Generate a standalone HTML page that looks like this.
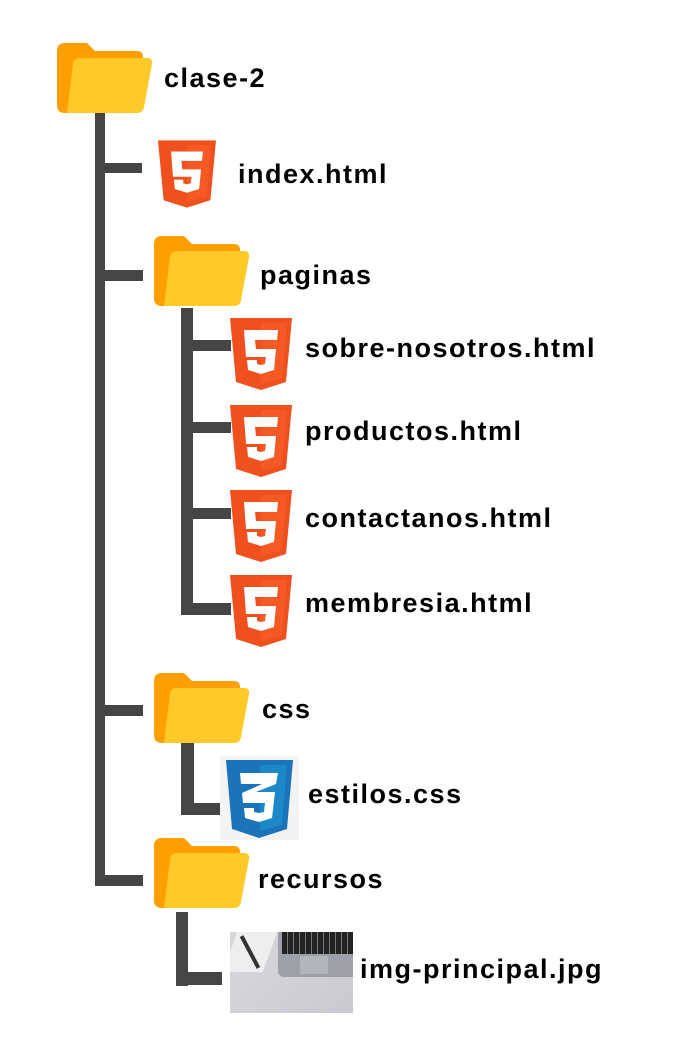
<!DOCTYPE html>
<html><head><meta charset="utf-8"><style>
body{margin:0;background:#fff;width:685px;height:1052px;position:relative;overflow:hidden;font-family:"Liberation Sans",sans-serif;}
.b{position:absolute;background:#454545;}
.t{position:absolute;font-weight:bold;font-size:27px;letter-spacing:1.5px;color:#000;line-height:1;white-space:nowrap;}
svg{position:absolute;}
</style></head><body>
<svg width="0" height="0" style="position:absolute">
<defs>
<symbol id="fold" viewBox="0 0 96 70">
<path d="M0 8 Q0 0 8 0 H30 L38 8 H80 Q86 8 86 14 V62 Q86 70 78 70 H8 Q0 70 0 62Z" fill="#FFA000"/>
<path d="M16 21 Q17 15 23 15 H90 Q96 15 95 21 L87 64 Q86 70 80 70 H10Z" fill="#FFCA28"/>
</symbol>
<symbol id="h5" viewBox="0 0 62 72">
<path d="M0 0H62L56 64L31 72L6 64Z" fill="#F0501E"/>
<path d="M31 5H57L52 60L31 66Z" fill="#F55A25"/>
<path d="M14 12H48L47 22H25L26 31H46L44 52L31 56L18 52L17 42H27L27 46L31 47L35 46L36 39H16Z" fill="#fff"/>
</symbol>
</defs></svg>

<div class="b" style="left:95px;top:110px;width:10px;height:776px"></div>
<div class="b" style="left:95px;top:163px;width:47px;height:10px"></div>
<div class="b" style="left:95px;top:270px;width:48px;height:11px"></div>
<div class="b" style="left:95px;top:705px;width:48px;height:11px"></div>
<div class="b" style="left:95px;top:875px;width:48px;height:11px"></div>

<div class="b" style="left:181px;top:308px;width:12px;height:307px"></div>
<div class="b" style="left:181px;top:340px;width:50px;height:11px"></div>
<div class="b" style="left:181px;top:422px;width:50px;height:11px"></div>
<div class="b" style="left:181px;top:508px;width:50px;height:11px"></div>
<div class="b" style="left:181px;top:603px;width:50px;height:12px"></div>

<div class="b" style="left:181px;top:743px;width:13px;height:72px"></div>
<div class="b" style="left:181px;top:803px;width:44px;height:12px"></div>
<div class="b" style="left:176px;top:912px;width:12px;height:74px"></div>
<div class="b" style="left:176px;top:972px;width:46px;height:13px"></div>

<svg style="left:57px;top:43px" width="96" height="70"><use href="#fold"/></svg>
<svg style="left:154px;top:236px" width="96" height="70"><use href="#fold"/></svg>
<svg style="left:154px;top:673px" width="96" height="70"><use href="#fold"/></svg>
<svg style="left:154px;top:838px" width="96" height="70"><use href="#fold"/></svg>

<svg style="left:158px;top:138px" width="58" height="72"><use href="#h5"/></svg>
<svg style="left:230px;top:318px" width="62" height="72"><use href="#h5"/></svg>
<svg style="left:230px;top:405px" width="62" height="72"><use href="#h5"/></svg>
<svg style="left:230px;top:490px" width="62" height="72"><use href="#h5"/></svg>
<svg style="left:230px;top:575px" width="62" height="72"><use href="#h5"/></svg>

<div style="position:absolute;left:220px;top:756px;width:79px;height:84px;background:#f3f3f3"></div>
<svg style="left:226px;top:760px" width="67" height="78" viewBox="0 0 67 78">
<path d="M0 0H67L61 69L33 78L6 69Z" fill="#1B73BA"/>
<path d="M34 5H61L56 65L34 71Z" fill="#1C88C7"/>
<path d="M14 13H52L50 24L30 32H49L46 58L33 62L19 58L18 48H28L28 52L33 53L38 52L39 43H17L16 33L36 24H15Z" fill="#fff"/>
</svg>

<div style="position:absolute;left:230px;top:932px;width:123px;height:81px;background:linear-gradient(135deg,#d8d8dc,#c9c9cf);overflow:hidden">
<div style="position:absolute;left:0;top:0;width:40px;height:40px;background:#eee;transform:skewX(-20deg)"></div>
<div style="position:absolute;left:18px;top:2px;width:4px;height:36px;background:#333;transform:rotate(-28deg)"></div>
<div style="position:absolute;left:48px;top:0;width:75px;height:45px;background:#9da0a6;border-radius:0 0 0 6px"></div>
<div style="position:absolute;left:52px;top:0;width:71px;height:22px;background:repeating-linear-gradient(90deg,#222 0 5px,#777 5px 6px)"></div>
<div style="position:absolute;left:70px;top:24px;width:28px;height:18px;background:#b3b5ba"></div>
</div>

<div class="t" style="left:164px;top:65px">clase-2</div>
<div class="t" style="left:238px;top:161px">index.html</div>
<div class="t" style="left:260px;top:262px">paginas</div>
<div class="t" style="left:305px;top:335px">sobre-nosotros.html</div>
<div class="t" style="left:305px;top:418px">productos.html</div>
<div class="t" style="left:305px;top:505px">contactanos.html</div>
<div class="t" style="left:305px;top:590px">membresia.html</div>
<div class="t" style="left:262px;top:696px">css</div>
<div class="t" style="left:308px;top:781px">estilos.css</div>
<div class="t" style="left:258px;top:866px">recursos</div>
<div class="t" style="left:360px;top:956px">img-principal.jpg</div>
</body></html>
